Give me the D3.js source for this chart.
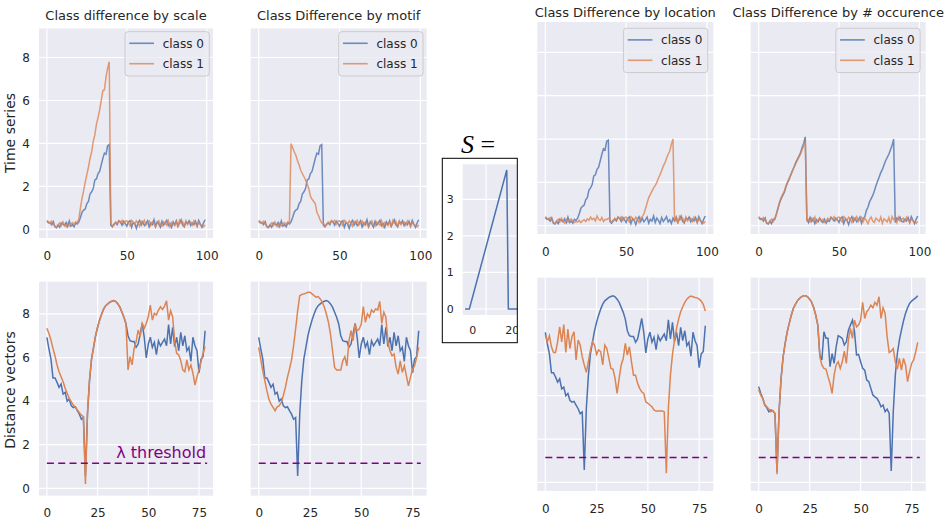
<!DOCTYPE html>
<html>
<head>
<meta charset="utf-8">
<script src="https://cdn.jsdelivr.net/npm/d3@7"></script>
<style>
  body { margin: 0; background: #fff; }
  svg text { font-family: "DejaVu Sans", sans-serif; fill: #262626; }
</style>
</head>
<body>
<div id="chart"></div>
<script>
// time series (100 steps) - class 0 is the same for scale / motif / location
const tsC0 = [
  0.38, 0.30, 0.33, 0.22, 0.36, 0.12, 0.08, 0.20, 0.10, 0.30,
  0.25, 0.18, 0.32, 0.14, 0.40, 0.15, 0.22, 0.12, 0.30, 0.25,
  0.35, 0.55, 0.80, 0.90, 0.95, 1.20, 1.30, 1.65, 1.75, 1.90,
  2.30, 2.35, 2.60, 2.70, 3.00, 3.30, 3.55, 3.50, 3.90, 3.95,
  0.20, 0.12, 0.25, 0.30, 0.22, 0.40, 0.35, 0.20, 0.38, 0.28,
  0.15, 0.35, 0.40, 0.10, 0.32, 0.25, 0.05, 0.30, 0.42, 0.20,
  0.35, 0.18, 0.28, 0.40, 0.12, 0.30, 0.22, 0.45, 0.15, 0.35,
  0.25, 0.10, 0.38, 0.20, 0.30, 0.42, 0.18, 0.28, 0.10, 0.35,
  0.22, 0.40, 0.15, 0.30, 0.45, 0.20, 0.12, 0.35, 0.28, 0.40,
  0.18, 0.30, 0.22, 0.38, 0.15, 0.42, 0.25, 0.10, 0.30, 0.45
];
const tsScaleC1 = [
  0.42, 0.35, 0.28, 0.38, 0.25, 0.15, 0.10, 0.22, 0.30, 0.18,
  0.35, 0.20, 0.12, 0.28, 0.18, 0.25, 0.32, 0.22, 0.35, 0.30,
  0.50, 1.00, 1.45, 1.80, 2.20, 2.55, 2.90, 3.30, 3.60, 4.10,
  4.40, 4.90, 5.20, 5.55, 6.00, 6.45, 6.50, 7.10, 7.50, 7.80,
  0.30, 0.15, 0.20, 0.35, 0.28, 0.40, 0.32, 0.42, 0.25, 0.38,
  0.40, 0.30, 0.18, 0.42, 0.35, 0.25, 0.40, 0.30, 0.15, 0.38,
  0.28, 0.42, 0.20, 0.32, 0.40, 0.18, 0.35, 0.25, 0.10, 0.30,
  0.40, 0.22, 0.15, 0.35, 0.28, 0.20, 0.40, 0.12, 0.32, 0.25,
  0.18, 0.38, 0.10, 0.42, 0.28, 0.35, 0.15, 0.40, 0.22, 0.30,
  0.35, 0.20, 0.40, 0.28, 0.15, 0.32, 0.22, 0.18, 0.12, 0.20
];
const tsMotifC1 = [
  0.42, 0.35, 0.28, 0.38, 0.25, 0.15, 0.10, 0.22, 0.30, 0.18,
  0.35, 0.20, 0.12, 0.28, 0.18, 0.25, 0.32, 0.22, 0.35, 0.30,
  4.00, 3.80, 3.60, 3.45, 3.20, 3.00, 2.75, 2.60, 2.45, 2.30,
  2.10, 1.90, 1.55, 1.40, 1.30, 1.20, 0.80, 0.65, 0.45, 0.30,
  0.30, 0.15, 0.20, 0.35, 0.28, 0.40, 0.32, 0.42, 0.25, 0.38,
  0.40, 0.30, 0.18, 0.42, 0.35, 0.25, 0.40, 0.30, 0.15, 0.38,
  0.28, 0.42, 0.20, 0.32, 0.40, 0.18, 0.35, 0.25, 0.10, 0.30,
  0.40, 0.22, 0.15, 0.35, 0.28, 0.20, 0.40, 0.12, 0.32, 0.25,
  0.18, 0.38, 0.10, 0.42, 0.28, 0.35, 0.15, 0.40, 0.22, 0.30,
  0.35, 0.20, 0.40, 0.28, 0.15, 0.32, 0.22, 0.18, 0.12, 0.20
];
const tsLocC1 = [
  0.42, 0.35, 0.28, 0.38, 0.25, 0.15, 0.10, 0.22, 0.30, 0.18,
  0.35, 0.20, 0.12, 0.28, 0.18, 0.25, 0.32, 0.22, 0.15, 0.20,
  0.18, 0.25, 0.15, 0.22, 0.28, 0.20, 0.32, 0.25, 0.40, 0.28,
  0.35, 0.22, 0.45, 0.30, 0.25, 0.38, 0.20, 0.30, 0.28, 0.35,
  0.30, 0.15, 0.20, 0.35, 0.28, 0.40, 0.32, 0.42, 0.25, 0.38,
  0.40, 0.30, 0.18, 0.42, 0.35, 0.25, 0.40, 0.30, 0.15, 0.38,
  0.40, 0.55, 0.80, 1.05, 1.30, 1.45, 1.60, 1.75, 1.85, 2.00,
  2.20, 2.35, 2.55, 2.75, 2.90, 3.10, 3.30, 3.45, 3.75, 4.00,
  0.18, 0.38, 0.10, 0.42, 0.28, 0.35, 0.15, 0.40, 0.22, 0.30,
  0.35, 0.20, 0.40, 0.28, 0.15, 0.32, 0.22, 0.18, 0.12, 0.20
];
const tsOccC0 = [
  0.38, 0.30, 0.33, 0.22, 0.36, 0.12, 0.08, 0.20, 0.10, 0.30,
  0.30, 0.55, 0.80, 1.05, 1.25, 1.40, 1.55, 1.80, 2.00, 2.15,
  2.35, 2.55, 2.70, 2.90, 3.05, 3.20, 3.35, 3.60, 3.80, 4.10,
  0.30, 0.15, 0.38, 0.20, 0.32, 0.10, 0.28, 0.18, 0.35, 0.22,
  0.15, 0.30, 0.12, 0.25, 0.20, 0.38, 0.30, 0.22, 0.35, 0.28,
  0.15, 0.35, 0.40, 0.10, 0.32, 0.25, 0.05, 0.30, 0.42, 0.20,
  0.35, 0.18, 0.28, 0.40, 0.12, 0.35, 0.40, 0.70, 0.85, 1.10,
  1.25, 1.40, 1.60, 1.85, 2.05, 2.25, 2.45, 2.60, 2.80, 3.00,
  3.15, 3.30, 3.50, 3.70, 4.00, 0.15, 0.35, 0.28, 0.40, 0.20,
  0.18, 0.30, 0.22, 0.38, 0.15, 0.42, 0.25, 0.10, 0.30, 0.45
];
const tsOccC1 = [
  0.42, 0.35, 0.28, 0.38, 0.25, 0.15, 0.10, 0.22, 0.30, 0.18,
  0.30, 0.50, 0.80, 1.10, 1.30, 1.45, 1.60, 1.85, 2.00, 2.20,
  2.35, 2.50, 2.70, 2.85, 3.00, 3.15, 3.30, 3.50, 3.70, 3.90,
  0.25, 0.30, 0.18, 0.35, 0.22, 0.40, 0.15, 0.28, 0.35, 0.20,
  0.30, 0.15, 0.20, 0.35, 0.28, 0.40, 0.32, 0.42, 0.25, 0.38,
  0.40, 0.30, 0.18, 0.42, 0.35, 0.25, 0.40, 0.30, 0.15, 0.38,
  0.28, 0.42, 0.20, 0.32, 0.40, 0.18, 0.35, 0.25, 0.10, 0.30,
  0.40, 0.22, 0.15, 0.35, 0.28, 0.20, 0.40, 0.12, 0.32, 0.25,
  0.18, 0.38, 0.10, 0.42, 0.28, 0.35, 0.15, 0.40, 0.22, 0.30,
  0.35, 0.20, 0.40, 0.28, 0.15, 0.32, 0.22, 0.18, 0.12, 0.20
];

// distance vectors (79 windows)
const distC0 = [
  6.93, 6.40, 5.93, 5.06, 5.06, 4.86, 4.63, 4.78, 4.32, 4.40,
  4.00, 4.10, 3.79, 3.70, 3.74, 3.56, 3.40, 3.17, 3.25, 0.57,
  3.40, 4.93, 5.93, 6.47, 7.00, 7.39, 7.72, 8.00, 8.23, 8.38,
  8.46, 8.54, 8.58, 8.61, 8.57, 8.46, 8.31, 8.08, 7.85, 7.54,
  7.00, 6.77, 6.74, 6.74, 6.47, 6.62, 7.08, 7.57, 6.93, 5.98,
  6.62, 6.93, 6.47, 6.70, 6.13, 6.77, 6.54, 6.70, 6.85, 6.54,
  7.51, 6.62, 7.39, 6.50, 6.93, 6.31, 7.16, 6.54, 7.00, 6.31,
  6.47, 5.82, 6.93, 6.54, 6.31, 5.30, 5.93, 6.04, 7.23
];
const distScaleC1 = [
  7.34, 7.10, 6.80, 6.42, 6.07, 5.66, 5.35, 5.12, 4.89, 4.59,
  4.36, 4.13, 3.98, 3.82, 3.72, 3.60, 3.47, 3.36, 3.29, 0.20,
  3.44, 4.97, 5.93, 6.47, 7.00, 7.39, 7.72, 8.00, 8.23, 8.38,
  8.46, 8.54, 8.58, 8.61, 8.57, 8.46, 8.31, 8.08, 7.85, 7.54,
  5.43, 6.04, 5.66, 6.42, 6.73, 7.26, 6.96, 7.57, 7.34, 7.57,
  7.87, 8.41, 7.72, 8.03, 7.95, 8.18, 8.33, 8.21, 8.36, 8.60,
  7.72, 8.15, 7.87, 6.73, 6.19, 6.12, 5.86, 5.43, 5.35, 5.89,
  5.43, 5.66, 5.28, 4.74, 5.12, 5.43, 5.81, 6.19, 6.50
];
const distMotifC1 = [
  6.47, 5.93, 5.39, 4.93, 4.47, 4.09, 3.86, 3.71, 3.56, 3.74,
  3.79, 3.94, 4.25, 4.63, 5.09, 5.47, 5.88, 6.54, 7.31, 8.15,
  8.84, 8.89, 8.92, 8.95, 9.00, 9.00, 8.92, 8.84, 8.77, 8.80,
  8.69, 8.54, 8.31, 8.00, 7.62, 7.08, 6.31, 5.55, 5.43, 5.43,
  5.43, 5.85, 6.04, 5.62, 6.77, 7.23, 6.77, 7.54, 7.23, 7.31,
  7.54, 8.34, 7.62, 8.00, 7.85, 8.18, 8.08, 8.23, 8.18, 8.58,
  7.57, 8.08, 7.85, 6.70, 6.31, 6.08, 6.16, 5.55, 5.24, 5.85,
  5.32, 5.62, 5.16, 4.70, 5.09, 5.47, 5.62, 6.01, 6.47
];
const distLocC1 = [
  6.80, 6.49, 6.77, 6.26, 6.00, 6.00, 6.49, 7.18, 6.49, 7.29,
  6.00, 7.08, 6.18, 6.72, 6.95, 5.65, 6.57, 6.34, 5.80, 5.42,
  5.08, 5.57, 6.11, 6.49, 6.34, 5.91, 6.11, 6.03, 5.42, 6.34,
  6.18, 5.72, 5.26, 5.23, 4.80, 4.11, 4.80, 5.42, 5.72, 6.42,
  5.88, 6.26, 5.57, 4.95, 4.95, 4.57, 4.34, 4.18, 4.11, 3.72,
  3.65, 3.57, 3.49, 3.34, 3.29, 3.29, 3.30, 3.30, 3.26, 0.42,
  3.42, 4.95, 5.91, 6.57, 7.11, 7.54, 7.88, 8.11, 8.31, 8.46,
  8.55, 8.60, 8.57, 8.54, 8.52, 8.46, 8.37, 8.22, 7.91
];
const distOccC0 = [
  4.42, 4.11, 3.88, 3.57, 3.45, 3.26, 3.34, 3.29, 3.18, 0.49,
  3.26, 4.80, 5.80, 6.42, 6.95, 7.34, 7.72, 8.03, 8.22, 8.38,
  8.49, 8.57, 8.62, 8.62, 8.57, 8.46, 8.31, 8.06, 7.72, 7.26,
  5.88, 5.65, 6.95, 6.65, 6.65, 5.34, 5.95, 5.49, 6.26, 6.77,
  6.72, 6.65, 6.34, 6.49, 7.03, 7.26, 7.49, 6.95, 5.88, 5.91,
  5.57, 5.26, 5.18, 4.72, 4.65, 4.34, 4.03, 3.95, 3.88, 3.72,
  3.49, 3.57, 3.26, 3.38, 3.18, 0.52, 3.26, 4.95, 5.95, 6.57,
  7.03, 7.45, 7.80, 8.06, 8.26, 8.37, 8.45, 8.52, 8.62
];
const distOccC1 = [
  4.26, 4.03, 3.88, 3.60, 3.49, 3.38, 3.26, 3.32, 3.18, 0.37,
  3.26, 4.80, 5.80, 6.42, 6.95, 7.34, 7.72, 8.03, 8.22, 8.38,
  8.49, 8.57, 8.62, 8.62, 8.57, 8.46, 8.31, 8.06, 7.72, 7.26,
  5.80, 5.42, 5.26, 5.23, 4.88, 4.57, 4.11, 4.95, 5.42, 5.57,
  5.26, 5.57, 6.06, 5.49, 6.57, 7.11, 6.65, 7.49, 7.18, 7.26,
  7.49, 8.31, 7.57, 7.88, 8.00, 8.18, 8.06, 8.31, 8.18, 8.57,
  7.57, 8.06, 7.80, 6.72, 6.00, 6.06, 6.18, 5.57, 5.23, 5.72,
  5.18, 5.72, 5.42, 4.65, 5.11, 5.49, 5.65, 6.03, 6.46
];

// shapelet S
const shapeX = [-3.7, -1.5, 17.5, 18.3, 23];
const shapeY = [0, 0, 3.8, 0, 0];

const lambdaValue = 1.15;
const lambdaRange = [0, 79];

const titles = ["Class difference by scale", "Class Difference by motif",
                "Class Difference by location", "Class Difference by # occurence"];
const legendLabels = ["class 0", "class 1"];
const tsTicksX = [0, 50, 100];
const distTicksX = [0, 25, 50, 75];
const ticksY = [0, 2, 4, 6, 8];
const shapeTicksX = [0, 20];
const shapeTicksY = [0, 1, 2, 3];

const width = 950, height = 526;
const blue = "#4c72b0", orange = "#dd8452";
const fmt = d3.format("d");

const svg = d3.select("#chart").append("svg")
  .attr("width", width)
  .attr("height", height);

// two sub figures, left (scale, motif) and right (location, occurence)
const figs = {
  L: { top: [28.5, 238], bottom: [281.7, 495.7], yTop: [-0.40, 9.35], yBottom: [-0.34, 9.48],
       legPad: [3.7, 3.2], titleY: 20.2 },
  R: { top: [22, 234], bottom: [277.7, 491], yTop: [-0.38, 9.4], yBottom: [-0.40, 9.45],
       legPad: [5.6, 6.3], titleY: 16.5 }
};

const panels = [
  { fig: "L", x: [39, 213], title: titles[0], ts: [tsC0, tsScaleC1], dist: [distC0, distScaleC1], showY: true, lambdaText: true },
  { fig: "L", x: [250.7, 426.7], title: titles[1], ts: [tsC0, tsMotifC1], dist: [distC0, distMotifC1] },
  { fig: "R", x: [537.3, 713.3], title: titles[2], ts: [tsC0, tsLocC1], dist: [distC0, distLocC1] },
  { fig: "R", x: [750.7, 925.7], title: titles[3], ts: [tsOccC0, tsOccC1], dist: [distOccC0, distOccC1] }
];

function makeAxes(x0, x1, y0, y1, xDomain, yDomain, xTicks, yTicks, showY) {
  const x = d3.scaleLinear().domain(xDomain).range([x0, x1]);
  const y = d3.scaleLinear().domain(yDomain).range([y1, y0]);
  const g = svg.append("g");

  g.append("rect")
    .attr("x", x0).attr("y", y0)
    .attr("width", x1 - x0).attr("height", y1 - y0)
    .attr("fill", "#eaeaf2");

  g.append("g").selectAll("line").data(xTicks).join("line")
    .attr("x1", (d) => x(d)).attr("x2", (d) => x(d))
    .attr("y1", y0).attr("y2", y1)
    .attr("stroke", "#fff").attr("stroke-width", 1.2);

  g.append("g").selectAll("line").data(yTicks).join("line")
    .attr("x1", x0).attr("x2", x1)
    .attr("y1", (d) => y(d)).attr("y2", (d) => y(d))
    .attr("stroke", "#fff").attr("stroke-width", 1.2);

  const xa = g.append("g")
    .attr("transform", `translate(0,${y1})`)
    .call(d3.axisBottom(x).tickValues(xTicks).tickFormat(fmt).tickSize(0).tickPadding(13));
  xa.attr("font-size", 12);
  xa.select(".domain").remove();

  if (showY) {
    const ya = g.append("g")
      .attr("transform", `translate(${x0},0)`)
      .call(d3.axisLeft(y).tickValues(yTicks).tickFormat(fmt).tickSize(0).tickPadding(9));
    ya.attr("font-size", 12);
    ya.select(".domain").remove();
  }
  return { x, y, g };
}

function legend(g, right, top, alpha) {
  const w = 84.3, h = 44.3;
  const lg = g.append("g").attr("transform", `translate(${right - w},${top})`);
  lg.append("rect")
    .attr("width", w).attr("height", h).attr("rx", 3)
    .attr("fill", "#eaeaf2").attr("fill-opacity", 0.8)
    .attr("stroke", "#cccccc").attr("stroke-width", 1);
  legendLabels.forEach((lab, i) => {
    const yy = 11.6 + i * 20.4;
    lg.append("line")
      .attr("x1", 4.3).attr("x2", 29).attr("y1", yy).attr("y2", yy)
      .attr("stroke", i === 0 ? blue : orange).attr("stroke-width", 1.6)
      .attr("stroke-opacity", alpha);
    lg.append("text")
      .attr("x", 37.7).attr("y", yy + 4.4)
      .attr("font-size", 12)
      .text(lab);
  });
}

panels.forEach((p) => {
  const f = figs[p.fig];

  // time series row
  const top = makeAxes(p.x[0], p.x[1], f.top[0], f.top[1], [-4.95, 103.95], f.yTop, tsTicksX, ticksY, p.showY);
  const tsLine = d3.line().x((d, i) => top.x(i)).y((d) => top.y(d));
  p.ts.forEach((s, i) => {
    top.g.append("path")
      .attr("d", tsLine(s))
      .attr("fill", "none")
      .attr("stroke", i === 0 ? blue : orange)
      .attr("stroke-width", 1.5)
      .attr("stroke-opacity", 0.8);
  });
  legend(top.g, p.x[1] - f.legPad[0], f.top[0] + f.legPad[1], 0.8);

  svg.append("text")
    .attr("x", (p.x[0] + p.x[1]) / 2)
    .attr("y", f.titleY)
    .attr("text-anchor", "middle")
    .attr("font-size", 13)
    .text(p.title);

  // distance vectors row
  const bot = makeAxes(p.x[0], p.x[1], f.bottom[0], f.bottom[1], [-3.9, 81.9], f.yBottom, distTicksX, ticksY, p.showY);
  const dLine = d3.line().x((d, i) => bot.x(i)).y((d) => bot.y(d));
  p.dist.forEach((s, i) => {
    bot.g.append("path")
      .attr("d", dLine(s))
      .attr("fill", "none")
      .attr("stroke", i === 0 ? blue : orange)
      .attr("stroke-width", 1.5);
  });
  bot.g.append("line")
    .attr("x1", bot.x(lambdaRange[0])).attr("x2", bot.x(lambdaRange[1]))
    .attr("y1", bot.y(lambdaValue)).attr("y2", bot.y(lambdaValue))
    .attr("stroke", "purple").attr("stroke-width", 1.5)
    .attr("stroke-dasharray", "7,4.3");
  if (p.lambdaText) {
    bot.g.append("text")
      .attr("x", bot.x(lambdaRange[1]) - 1)
      .attr("y", bot.y(lambdaValue) - 5)
      .attr("text-anchor", "end")
      .attr("font-size", 16)
      .style("fill", "purple")
      .text("λ threshold");
  }
});

// y axis labels
svg.append("text")
  .attr("transform", "translate(15,133) rotate(-90)")
  .attr("text-anchor", "middle")
  .attr("font-size", 14)
  .text("Time series");
svg.append("text")
  .attr("transform", "translate(15,390) rotate(-90)")
  .attr("text-anchor", "middle")
  .attr("font-size", 14)
  .text("Distance vectors");

// the shapelet inset
const sBox = { x0: 442.3, x1: 517.3, y0: 158.3, y1: 342.7 };
svg.append("clipPath").attr("id", "sclip")
  .append("rect")
  .attr("x", sBox.x0).attr("y", sBox.y0)
  .attr("width", sBox.x1 - sBox.x0).attr("height", sBox.y1 - sBox.y0);

const sg = svg.append("g").attr("clip-path", "url(#sclip)");
const sx = d3.scaleLinear().domain([-4.87, 22.84]).range([462.7, 517.3]);
const sy = d3.scaleLinear().domain([-0.164, 3.957]).range([315, 164.3]);
sg.append("rect")
  .attr("x", 462.7).attr("y", 164.3)
  .attr("width", 517.3 - 462.7).attr("height", 315 - 164.3)
  .attr("fill", "#eaeaf2");
sg.append("g").selectAll("line").data([7]).join("line")
  .attr("x1", (d) => sx(d)).attr("x2", (d) => sx(d))
  .attr("y1", 164.3).attr("y2", 315)
  .attr("stroke", "#fff").attr("stroke-width", 1.2);
sg.append("g").selectAll("line").data(shapeTicksY).join("line")
  .attr("x1", 462.7).attr("x2", 517.3)
  .attr("y1", (d) => sy(d)).attr("y2", (d) => sy(d))
  .attr("stroke", "#fff").attr("stroke-width", 1.2);
const sxa = sg.append("g").attr("transform", "translate(0,315)")
  .call(d3.axisBottom(sx).tickValues(shapeTicksX).tickFormat(fmt).tickSize(0).tickPadding(11));
sxa.attr("font-size", 11);
sxa.select(".domain").remove();
const sya = sg.append("g").attr("transform", "translate(462.7,0)")
  .call(d3.axisLeft(sy).tickValues(shapeTicksY).tickFormat(fmt).tickSize(0).tickPadding(9));
sya.attr("font-size", 11);
sya.select(".domain").remove();
sg.append("path")
  .attr("d", d3.line().x((d, i) => sx(shapeX[i])).y((d) => sy(d))(shapeY))
  .attr("fill", "none")
  .attr("stroke", blue)
  .attr("stroke-width", 1.5);

svg.append("rect")
  .attr("x", sBox.x0).attr("y", sBox.y0)
  .attr("width", sBox.x1 - sBox.x0).attr("height", sBox.y1 - sBox.y0)
  .attr("fill", "none").attr("stroke", "#000").attr("stroke-width", 1);

const sTitle = svg.append("text")
  .attr("x", 478).attr("y", 152.5)
  .attr("text-anchor", "middle")
  .attr("font-size", 26)
  .style("font-family", "'Liberation Serif', serif")
  .style("fill", "#000");
sTitle.append("tspan").style("font-style", "italic").text("S");
sTitle.append("tspan").text(" =");
</script>
</body>
</html>
